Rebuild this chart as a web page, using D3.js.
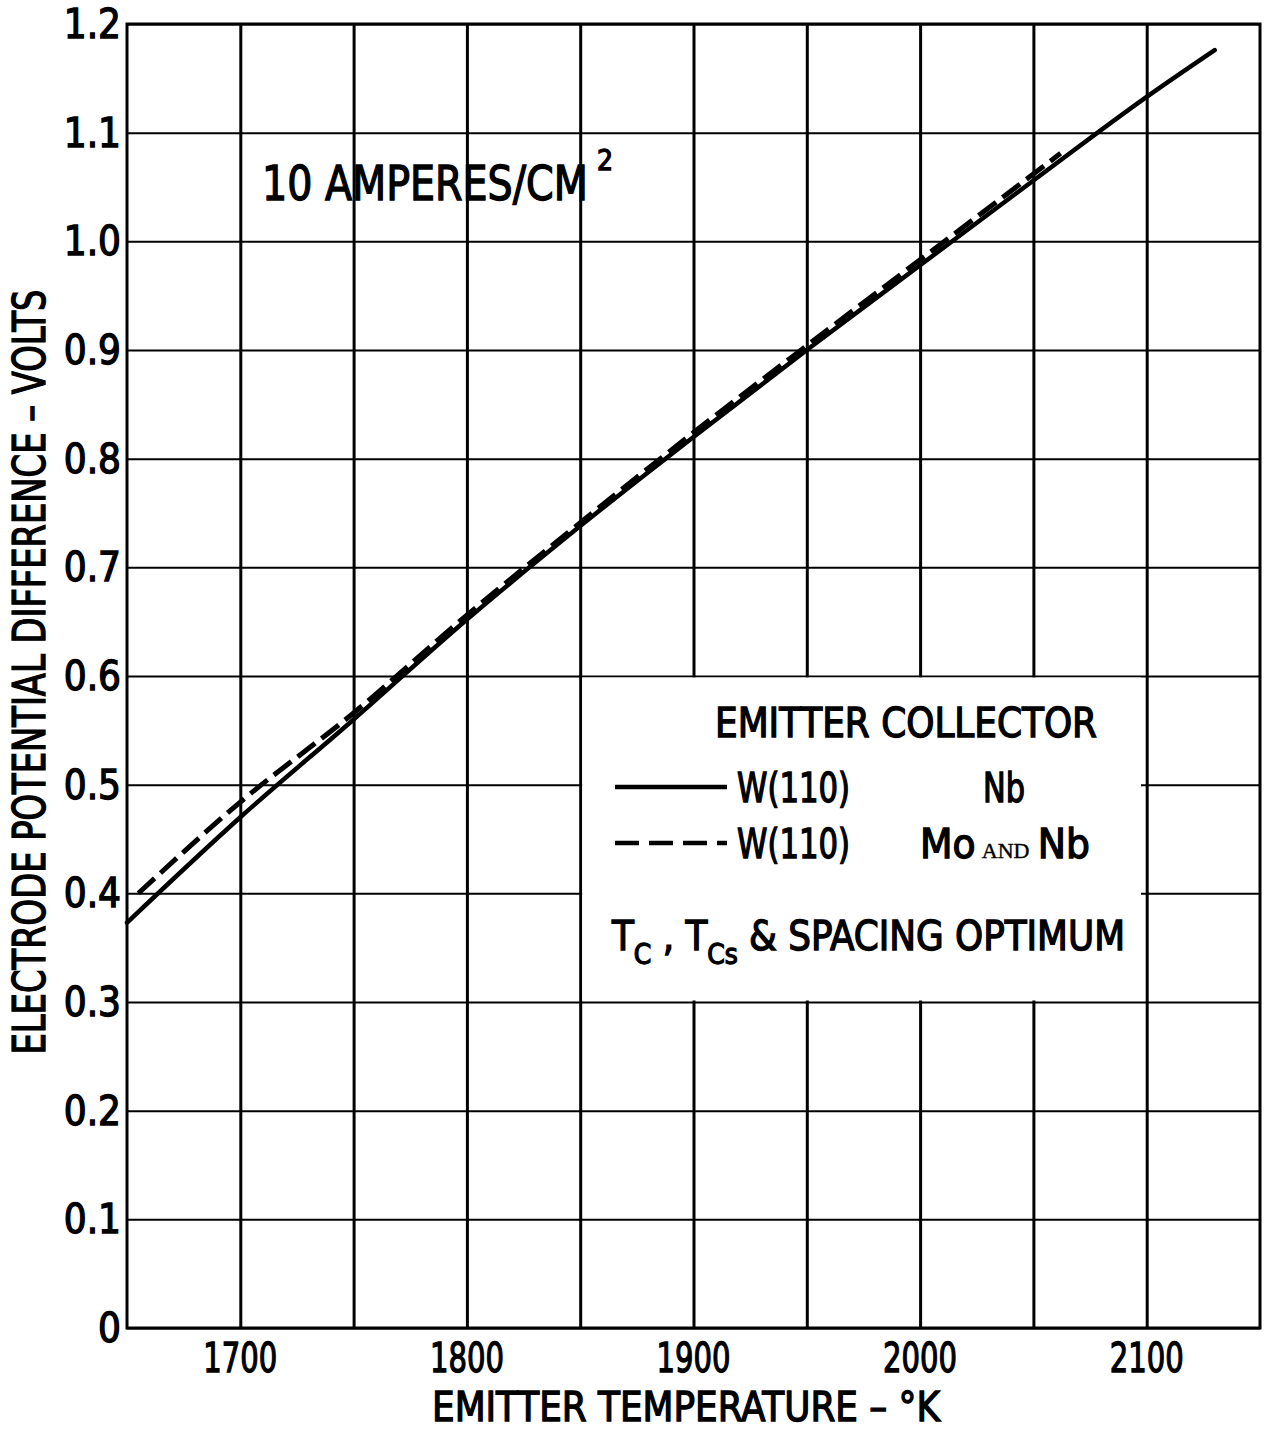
<!DOCTYPE html>
<html><head><meta charset="utf-8">
<script src="https://cdn.jsdelivr.net/npm/d3@7"></script>
<style>
body{margin:0;background:#fff;}
text{font-family:"Liberation Sans Narrow","DejaVu Sans Condensed","Arial Narrow","Liberation Sans",sans-serif;font-stretch:condensed;fill:#000;stroke:#000;stroke-width:1.3px;}
</style></head>
<body><svg id="c" width="1264" height="1433"></svg>
<script>
// Data
const xTicks = [1700, 1800, 1900, 2000, 2100];
const xGrid = [1700, 1750, 1800, 1850, 1900, 1950, 2000, 2050, 2100];
const yTicks = [0, 0.1, 0.2, 0.3, 0.4, 0.5, 0.6, 0.7, 0.8, 0.9, 1.0, 1.1, 1.2];
const yTickLabels = ["0", "0.1", "0.2", "0.3", "0.4", "0.5", "0.6", "0.7", "0.8", "0.9", "1.0", "1.1", "1.2"];
const solidT = [1650, 1700, 1750, 1800, 1850, 1900, 1950, 2000, 2050, 2100, 2130];
const solidV = [0.373, 0.470, 0.560, 0.652, 0.738, 0.820, 0.900, 0.978, 1.056, 1.133, 1.176];
const dashT = [1655, 1700, 1750, 1800, 1850, 1900, 1950, 2000, 2050, 2062];
const dashV = [0.400, 0.484, 0.566, 0.656, 0.741, 0.824, 0.904, 0.983, 1.062, 1.081];

const svg = d3.select("#c");
const L = 127, R = 1260, T = 24, B = 1328;
const x = d3.scaleLinear().domain([1650, 2150]).range([L, R]);
const y = d3.scaleLinear().domain([0, 1.2]).range([B, T]);

// horizontal grid
const gy = svg.append("g").attr("transform", `translate(${L},0)`)
  .call(d3.axisLeft(y).tickValues(yTicks).tickSize(-(R - L)).tickFormat(""));
gy.select(".domain").remove();
gy.selectAll(".tick line").attr("stroke", "#000").attr("stroke-width", 2);

// vertical grid
const gx = svg.append("g").attr("transform", `translate(0,${B})`)
  .call(d3.axisBottom(x).tickValues(xGrid).tickSize(-(B - T)).tickFormat(""));
gx.select(".domain").remove();
gx.selectAll(".tick line").attr("stroke", "#000").attr("stroke-width", 3);

// frame
svg.append("rect").attr("x", L).attr("y", T).attr("width", R - L).attr("height", B - T)
  .attr("fill", "none").attr("stroke", "#000").attr("stroke-width", 3);

// Tick labels
svg.append("g").selectAll("text").data(xTicks).join("text")
  .attr("x", d => x(d)).attr("y", 1372).attr("text-anchor", "middle")
  .attr("font-size", 41).attr("textLength", 74).attr("lengthAdjust", "spacingAndGlyphs")
  .text(d => d);
svg.append("g").selectAll("text").data(yTicks).join("text")
  .attr("x", 121).attr("y", d => y(d) + 14).attr("text-anchor", "end")
  .attr("font-size", 40)
  .text((d, i) => yTickLabels[i]);

// Axis titles
svg.append("text").attr("x", 686).attr("y", 1421).attr("text-anchor", "middle")
  .attr("font-size", 41).attr("textLength", 508).attr("lengthAdjust", "spacingAndGlyphs")
  .text("EMITTER TEMPERATURE – °K");
svg.append("text").attr("transform", "translate(45,672) rotate(-90)").attr("text-anchor", "middle")
  .attr("font-size", 44).attr("textLength", 765).attr("lengthAdjust", "spacingAndGlyphs")
  .text("ELECTRODE POTENTIAL DIFFERENCE – VOLTS");

// Title (scaled horizontally to the reference width)
const title = svg.append("text").attr("font-size", 48).text("10 AMPERES/CM");
const tw = title.node().getComputedTextLength();
title.attr("transform", `translate(262,200) scale(${326 / tw},1)`);
svg.append("text").attr("x", 597).attr("y", 170).attr("font-size", 28).text("2");

// Curves
const line = d3.line().x(d => x(d[0])).y(d => y(d[1])).curve(d3.curveMonotoneX);
svg.append("path").datum(solidT.map((t, i) => [t, solidV[i]])).attr("d", line)
  .attr("fill", "none").attr("stroke", "#000").attr("stroke-width", 4.5).attr("stroke-linecap", "round");
svg.append("path").datum(dashT.map((t, i) => [t, dashV[i]])).attr("d", line)
  .attr("fill", "none").attr("stroke", "#000").attr("stroke-width", 5)
  .attr("stroke-dasharray", "22,8");

// Legend box (white, over grid, keeping 1850 and 0.6 lines)
svg.append("rect").attr("x", x(1850) + 2).attr("y", y(0.6) + 1.5)
  .attr("width", 1141 - x(1850) - 2).attr("height", y(0.3) - y(0.6) - 3).attr("fill", "#fff");

svg.append("text").attr("x", 715).attr("y", 737).attr("font-size", 40)
  .attr("textLength", 382).attr("lengthAdjust", "spacingAndGlyphs").text("EMITTER  COLLECTOR");
svg.append("line").attr("x1", 615).attr("x2", 727).attr("y1", 787).attr("y2", 787)
  .attr("stroke", "#000").attr("stroke-width", 4.5);
svg.append("line").attr("x1", 615).attr("x2", 727).attr("y1", 843).attr("y2", 843)
  .attr("stroke", "#000").attr("stroke-width", 4.5).attr("stroke-dasharray", "24,10");
svg.append("text").attr("x", 737).attr("y", 802).attr("font-size", 40)
  .attr("textLength", 113).attr("lengthAdjust", "spacingAndGlyphs").text("W(110)");
svg.append("text").attr("x", 737).attr("y", 858).attr("font-size", 40)
  .attr("textLength", 113).attr("lengthAdjust", "spacingAndGlyphs").text("W(110)");
svg.append("text").attr("x", 983).attr("y", 802).attr("font-size", 40)
  .attr("textLength", 42).attr("lengthAdjust", "spacingAndGlyphs").text("Nb");
const mo = svg.append("text").attr("x", 920).attr("y", 858).attr("font-size", 40)
  .attr("textLength", 170).attr("lengthAdjust", "spacingAndGlyphs");
mo.append("tspan").text("Mo");
mo.append("tspan").attr("font-family", "Liberation Serif, serif").attr("stroke-width", 0.4)
  .attr("font-size", 21).attr("dx", 6).text("AND");
mo.append("tspan").attr("dx", 8).text("Nb");

const tc = svg.append("text").attr("x", 612).attr("y", 950).attr("font-size", 40)
  .attr("textLength", 513).attr("lengthAdjust", "spacingAndGlyphs");
tc.append("tspan").text("T");
tc.append("tspan").attr("font-size", 28).attr("dy", 14).text("C");
tc.append("tspan").attr("dy", -14).text(" , T");
tc.append("tspan").attr("font-size", 28).attr("dy", 14).text("Cs");
tc.append("tspan").attr("dy", -14).text(" & SPACING OPTIMUM");
</script></body></html>
